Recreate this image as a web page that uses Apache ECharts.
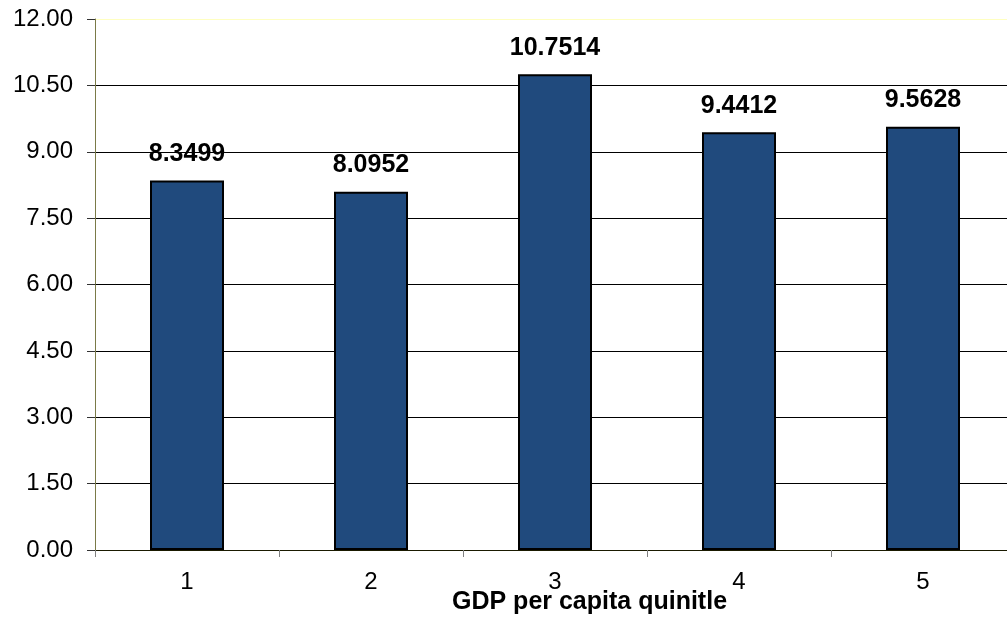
<!DOCTYPE html>
<html>
<head>
<meta charset="utf-8">
<script src="https://cdn.jsdelivr.net/npm/echarts@6/dist/echarts.min.js"></script>
<style>html,body{margin:0;padding:0;background:#fff;overflow:hidden;}#c{width:1016px;height:619px;}</style>
</head>
<body>
<div id="c"></div>
<script>
var categories = ['1', '2', '3', '4', '5'];
var values = [8.3499, 8.0952, 10.7514, 9.4412, 9.5628];
var valueLabels = ['8.3499', '8.0952', '10.7514', '9.4412', '9.5628'];
var xTitle = 'GDP per capita quinitle';

var chart = echarts.init(document.getElementById('c'), null, {renderer: 'canvas'});
var splitColors = ['#000', '#000', '#000', '#000', '#000', '#000', '#000', '#000', '#ffffc0'];
chart.setOption({
  animation: false,
  backgroundColor: '#ffffff',
  title: {
    text: xTitle,
    left: 452,
    top: 590,
    textStyle: {fontFamily: 'Liberation Sans, Arial, sans-serif', fontWeight: 'bold', fontSize: 25, color: '#000'},
    padding: 0
  },
  grid: {left: 95, top: 19, right: 1, height: 531, containLabel: false},
  xAxis: {
    type: 'category',
    data: categories,
    axisLine: {show: true, lineStyle: {color: '#1a1a00', width: 1}},
    axisTick: {show: true, length: 7, interval: 0, lineStyle: {color: '#808080'}},
    axisLabel: {fontFamily: 'Liberation Sans, Arial, sans-serif', fontSize: 24, color: '#000', margin: 20},
    z: 1
  },
  yAxis: {
    type: 'value',
    min: 0, max: 12, interval: 1.5,
    axisLine: {show: true, lineStyle: {color: '#7a7a48', width: 1}},
    axisTick: {show: true, length: 8, lineStyle: {color: '#333'}},
    axisLabel: {fontFamily: 'Liberation Sans, Arial, sans-serif', fontSize: 24, color: '#000', margin: 22,
      formatter: function (v) { return v.toFixed(2); }},
    splitLine: {show: true, lineStyle: {color: splitColors, width: 1}}
  },
  series: [{
    type: 'bar',
    data: values,
    barWidth: 74,
    z: 5,
    itemStyle: {color: '#204a7d', borderColor: '#000', borderWidth: 2},
    label: {
      show: true, position: 'top', distance: 14,
      fontFamily: 'Liberation Sans, Arial, sans-serif', fontWeight: 'bold', fontSize: 25, color: '#000',
      formatter: function (p) { return valueLabels[p.dataIndex]; }
    }
  }]
});
</script>
</body>
</html>
